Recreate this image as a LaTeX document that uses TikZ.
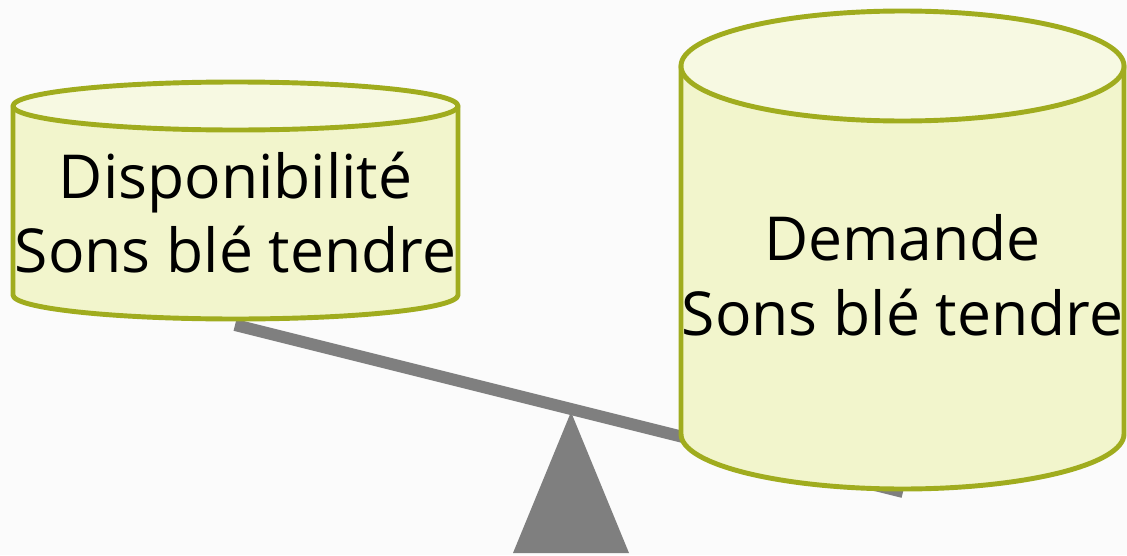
\documentclass[tikz,border=0pt]{standalone}
\usepackage{fontspec}
\setmainfont{Open Sans}
\usetikzlibrary{positioning}

\definecolor{tankline}{RGB}{160,172,30}
\definecolor{tankside}{RGB}{242,245,204}
\definecolor{tanktop}{RGB}{247,249,226}
\definecolor{beamgray}{RGB}{127,127,127}
\definecolor{paper}{RGB}{251,251,251}

% cylinder: center x, top y, bottom y, x radius, y radius
\newcommand\drawtank[5]{%
  \filldraw[tank, fill=tankside] ({#1-#4},#2) -- ({#1-#4},#3)
     arc[start angle=180, end angle=360, x radius=#4, y radius=#5]
     -- ({#1+#4},#2) -- cycle;
  \filldraw[tank, fill=tanktop] (#1,#2) ellipse[x radius=#4, y radius=#5];
}

\tikzset{
  tank/.style={draw=tankline, line width=2.8pt, line join=round},
  tanklabel/.style={font=\fontsize{34.5}{42.5}\selectfont, align=center, inner sep=0pt}
}

\begin{document}
\begin{tikzpicture}
    \fill[paper] (0,0) rectangle (22.54,11.1);
    \useasboundingbox (0,0) rectangle (22.54,11.1);

    % seesaw
    \coordinate (beamL) at (4.70,4.60);
    \coordinate (beamR) at (18.06,1.26);
    \coordinate (apex) at (11.42,2.86);
    \coordinate (footL) at (10.26,0.04);
    \coordinate (footR) at (12.58,0.04);
    \draw[beamgray, line width=6.8pt] (beamL) -- (beamR);
    \fill[beamgray] (apex) -- (footL) -- (footR) -- cycle;

    % tanks
    \drawtank{4.71}{8.98}{5.20}{4.45}{0.48}
    \drawtank{18.05}{9.78}{2.42}{4.43}{1.10}

    \node[tanklabel] (dispo) at (4.71,6.85) {Disponibilité\\Sons blé tendre};
    \node[tanklabel] (demande) at (18.05,5.60) {Demande\\Sons blé tendre};
\end{tikzpicture}
\end{document}
